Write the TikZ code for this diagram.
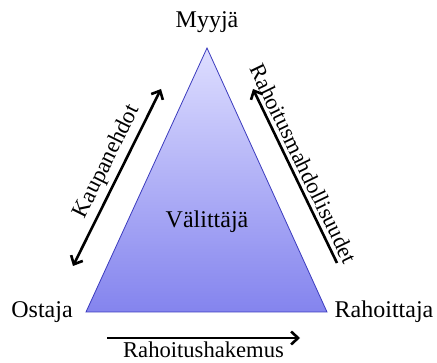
\documentclass[tikz,border=0pt]{standalone}
\usepackage{fontspec}
\setmainfont{Liberation Serif}
\usetikzlibrary{arrows.meta}
\definecolor{triedge}{RGB}{60,60,190}
\definecolor{tritop}{RGB}{222,222,255}
\definecolor{tribot}{RGB}{132,132,238}
\tikzset{
  lbl/.style={font=\fontsize{24}{27}\selectfont, inner sep=1pt},
  slbl/.style={font=\fontsize{23}{26}\selectfont, inner sep=1pt},
  barb/.tip={Straight Barb[length=7pt,width=13pt,line width=2.6pt]},
  flow/.style={line width=2.6pt, line cap=round, barb-barb},
  oneway/.style={line width=2.6pt, -barb},
  backway/.style={line width=2.6pt, barb-}
}
\begin{document}
\begin{tikzpicture}[x=1pt,y=-1pt]
\useasboundingbox (0,0) rectangle (437,363);
\coordinate (apex) at (207,48);
\coordinate (bl) at (86,312);
\coordinate (br) at (327,312);
\shade[top color=tritop, bottom color=tribot, draw=triedge, line width=0.8pt] (apex) -- (br) -- (bl) -- cycle;
\node[lbl] (myyja) at (207,22) {Myyjä};
\node[lbl] (ostaja) at (42,312) {Ostaja};
\node[lbl] (rahoittaja) at (384,312) {Rahoittaja};
\node[lbl] (valittaja) at (207,222) {Välittäjä};
\coordinate (k1) at (73,266);
\coordinate (k2) at (161,89);
\draw[flow] (k1) -- (k2) node[pos=0.55, sloped, above=3pt, slbl] (kaup) {Kaupanehdot};
\coordinate (r1) at (253,89);
\coordinate (r2) at (337,263);
\draw[backway] (r1) -- (r2) node[pos=0.46, sloped, above=3pt, slbl, font=\fontsize{22.4}{25}\selectfont] (rmahd) {Rahoitusmahdollisuudet};
\coordinate (h1) at (107,338);
\coordinate (h2) at (300,338);
\draw[oneway] (h1) -- (h2) node[midway, below=2pt, slbl, font=\fontsize{22.6}{25}\selectfont] (hak) {Rahoitushakemus};
\end{tikzpicture}
\end{document}
